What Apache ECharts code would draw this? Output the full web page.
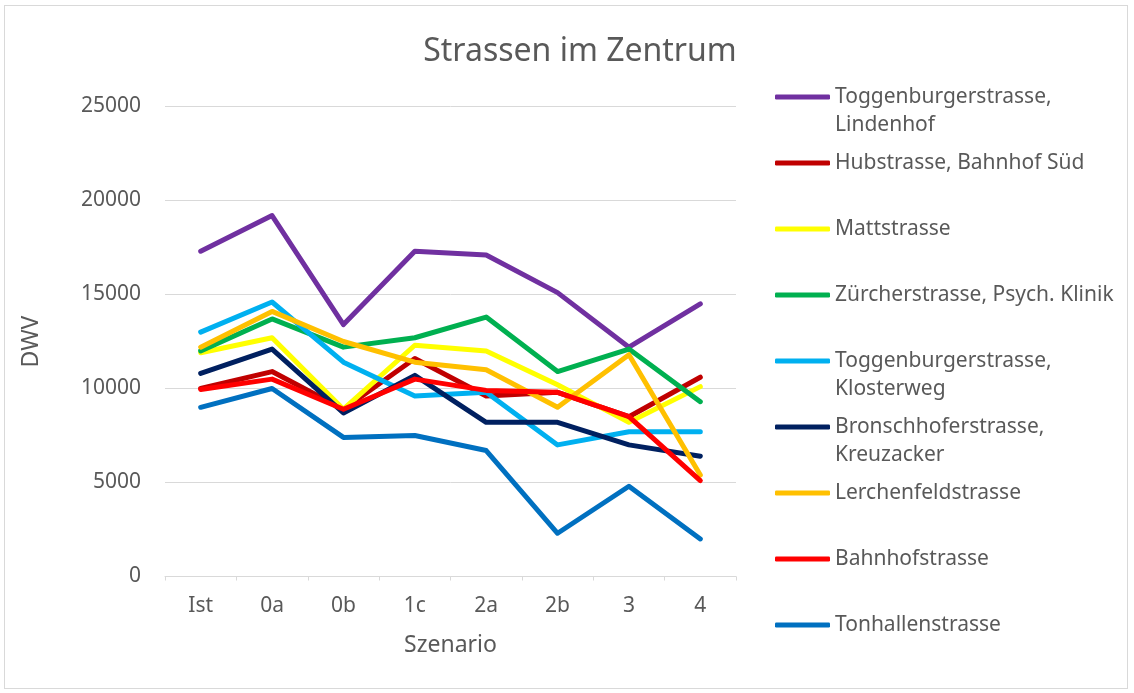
<!DOCTYPE html>
<html>
<head>
<meta charset="utf-8">
<script src="https://cdn.jsdelivr.net/npm/echarts@6/dist/echarts.min.js"></script>
<style>
    html, body { margin: 0; padding: 0; background: #fff; }
    #wrap { position: absolute; left: 4px; top: 5px; width: 1124px; height: 684px; border: 1px solid #d9d9d9; box-sizing: border-box; }
    #chart { position: absolute; left: 0; top: 0; width: 1134px; height: 693px; }
</style>
</head>
<body>
<div id="wrap"></div>
<div id="chart"></div>
<script>
// Szenarien (x-Achse)
const categories = ["Ist", "0a", "0b", "1c", "2a", "2b", "3", "4"];

// DWV je Strasse
const toggenburgerLindenhof = [17300, 19200, 13400, 17300, 17100, 15100, 12200, 14500];
const hubstrasse = [10000, 10900, 8900, 11600, 9600, 9800, 8500, 10600];
const mattstrasse = [11900, 12700, 8900, 12300, 12000, 10200, 8200, 10100];
const zuercherstrasse = [12000, 13700, 12200, 12700, 13800, 10900, 12100, 9300];
const toggenburgerKlosterweg = [13000, 14600, 11400, 9600, 9800, 7000, 7700, 7700];
const bronschhoferstrasse = [10800, 12100, 8700, 10700, 8200, 8200, 7000, 6400];
const lerchenfeldstrasse = [12200, 14100, 12500, 11400, 11000, 9000, 11800, 5400];
const bahnhofstrasse = [9950, 10500, 8900, 10500, 9900, 9800, 8500, 5100];
const tonhallenstrasse = [9000, 10000, 7400, 7500, 6700, 2300, 4800, 2000];

const seriesNames = [
    "Toggenburgerstrasse,\nLindenhof",
    "Hubstrasse, Bahnhof Süd",
    "Mattstrasse",
    "Zürcherstrasse, Psych. Klinik",
    "Toggenburgerstrasse,\nKlosterweg",
    "Bronschhoferstrasse,\nKreuzacker",
    "Lerchenfeldstrasse",
    "Bahnhofstrasse",
    "Tonhallenstrasse"
];
const seriesData = [
    toggenburgerLindenhof, hubstrasse, mattstrasse, zuercherstrasse,
    toggenburgerKlosterweg, bronschhoferstrasse, lerchenfeldstrasse,
    bahnhofstrasse, tonhallenstrasse
];
const seriesColors = ["#7030A0", "#C00000", "#FFFF00", "#00B050", "#00B0F0", "#002060", "#FFC000", "#FF0000", "#0070C0"];

const FONT = "'Noto Sans', sans-serif";
const TEXT = "#595959";

const chart = echarts.init(document.getElementById("chart"));

// Legende: erste Zeile ueber die Legende, zweite Zeile als eigener Text
const legendTop = 85;
const legendStep = 66;
const lineH = 24;
const extraLines = [];
seriesNames.forEach((n, i) => {
    const parts = n.split("\n");
    if (parts.length > 1) {
        extraLines.push({
            type: "text",
            x: 835,
            y: legendTop + lineH / 2 + i * legendStep + 28,
            style: { text: parts[1], fill: TEXT, font: "21px " + FONT, verticalAlign: "middle" }
        });
    }
});

chart.setOption({
    animation: false,
    title: {
        text: "Strassen im Zentrum",
        left: 575,
        top: 31,
        textAlign: "center",
        textStyle: { fontFamily: FONT, fontSize: 32, fontWeight: "normal", color: TEXT }
    },
    legend: {
        orient: "vertical",
        left: 775,
        top: legendTop,
        padding: 0,
        itemWidth: 55,
        itemHeight: 5,
        itemGap: legendStep - lineH,
        icon: "roundRect",
        data: seriesNames,
        formatter: (name) => name.split("\n")[0],
        textStyle: { fontFamily: FONT, fontSize: 21, color: TEXT, lineHeight: lineH, height: lineH, padding: 0 }
    },
    graphic: extraLines,
    grid: { left: 165, right: 398, top: 106.5, bottom: 116.5 },
    xAxis: {
        type: "category",
        data: categories,
        name: "Szenario",
        nameLocation: "middle",
        nameGap: 57,
        nameTextStyle: { fontFamily: FONT, fontSize: 23, color: TEXT },
        axisLine: { lineStyle: { color: "#d9d9d9", width: 1 } },
        axisTick: { show: true, length: 4, lineStyle: { color: "#d9d9d9" } },
        axisLabel: { fontFamily: FONT, fontSize: 21, color: TEXT, margin: 19 }
    },
    yAxis: {
        type: "value",
        min: 0,
        max: 25000,
        interval: 5000,
        name: "DWV",
        nameLocation: "middle",
        nameGap: 122,
        nameTextStyle: { fontFamily: FONT, fontSize: 23, color: TEXT },
        axisLine: { show: false },
        axisTick: { show: false },
        axisLabel: { fontFamily: FONT, fontSize: 21, color: TEXT, margin: 24, formatter: (v) => String(v) },
        splitLine: { lineStyle: { color: "#d9d9d9", width: 1 } }
    },
    series: seriesData.map((d, i) => ({
        name: seriesNames[i],
        type: "line",
        data: d,
        symbol: "none",
        color: seriesColors[i],
        lineStyle: { width: 5, color: seriesColors[i], cap: "round", join: "round" }
    }))
});
</script>
</body>
</html>
